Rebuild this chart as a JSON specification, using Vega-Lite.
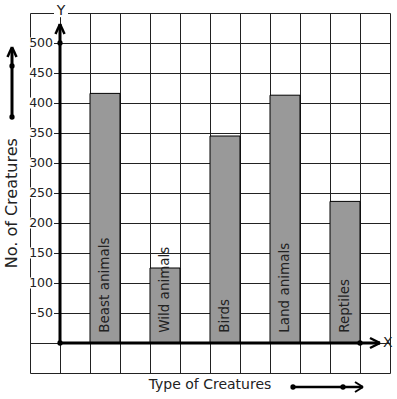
{
  "$schema": "https://vega.github.io/schema/vega-lite/v6.json",
  "width": 360,
  "height": 360,
  "autosize": {"type": "none"},
  "padding": {"left": 30, "top": 13, "right": 7, "bottom": 26},
  "config": {
    "view": {"stroke": null},
    "axis": {"gridColor": "#222222", "gridWidth": 1, "gridOpacity": 1},
    "text": {"font": "DejaVu Sans", "color": "#222222"}
  },
  "datasets": {
    "creatures": [
      {"category": "Beast animals", "value": 416},
      {"category": "Wild animals", "value": 125},
      {"category": "Birds", "value": 345},
      {"category": "Land animals", "value": 413},
      {"category": "Reptiles", "value": 236}
    ],
    "ticks": [{"v": 50}, {"v": 100}, {"v": 150}, {"v": 200}, {"v": 250}, {"v": 300}, {"v": 350}, {"v": 400}, {"v": 450}, {"v": 500}],
    "one": [{"k": 1}]
  },
  "layer": [
    {
      "data": {"name": "creatures"},
      "transform": [{"window": [{"op": "row_number", "as": "slot"}]}],
      "mark": {"type": "bar", "fill": "#999999", "stroke": "black", "strokeWidth": 1, "size": 30},
      "encoding": {
        "x": {"field": "slot", "type": "quantitative",
          "scale": {"domain": [-0.25, 5.75], "nice": false, "zero": false, "padding": 0},
          "axis": {"values": [-0.25, 0.25, 0.75, 1.25, 1.75, 2.25, 2.75, 3.25, 3.75, 4.25, 4.75, 5.25, 5.75], "tickCount": 20, "grid": true, "labels": false, "ticks": false, "domain": false, "title": null}},
        "y": {"field": "value", "type": "quantitative",
          "scale": {"domain": [-50, 550], "nice": false, "zero": false, "padding": 0},
          "axis": {"values": [-50, 0, 50, 100, 150, 200, 250, 300, 350, 400, 450, 500, 550], "tickCount": 20, "grid": true, "labels": false, "ticks": false, "domain": false, "title": null}}
      }
    },
    {
      "data": {"name": "creatures"},
      "transform": [{"window": [{"op": "row_number", "as": "slot"}]}],
      "mark": {"type": "text", "align": "left", "baseline": "middle", "angle": 270, "fontSize": 13.5},
      "encoding": {
        "x": {"field": "slot", "type": "quantitative"},
        "y": {"datum": 17},
        "text": {"field": "category"}
      }
    },
    {
      "data": {"name": "ticks"},
      "transform": [{"filter": "datum.v >= 100"}],
      "mark": {"type": "bar", "fill": "white", "size": 11},
      "encoding": {"x": {"datum": -0.2667}, "x2": {"datum": 0.15}, "y": {"field": "v", "type": "quantitative"}}
    },
    {
      "data": {"name": "ticks"},
      "transform": [{"filter": "datum.v < 100"}],
      "mark": {"type": "bar", "fill": "white", "size": 11},
      "encoding": {"x": {"datum": -0.15}, "x2": {"datum": 0.15}, "y": {"field": "v", "type": "quantitative"}}
    },
    {
      "data": {"name": "ticks"},
      "mark": {"type": "text", "align": "right", "baseline": "middle", "fontSize": 12.5},
      "encoding": {"x": {"datum": 0.1333}, "y": {"field": "v", "type": "quantitative"}, "text": {"field": "v"}}
    },
    {
      "data": {"name": "one"},
      "mark": {"type": "rect", "fill": "white"},
      "encoding": {"x": {"datum": 0.15}, "x2": {"datum": 0.3833}, "y": {"datum": 543}, "y2": {"datum": 558}}
    },
    {
      "data": {"name": "one"},
      "mark": {"type": "text", "align": "center", "baseline": "middle", "fontSize": 14, "text": "Y"},
      "encoding": {"x": {"datum": 0.2667}, "y": {"datum": 553}}
    },
    {
      "data": {"name": "one"},
      "mark": {"type": "text", "align": "left", "baseline": "middle", "fontSize": 14, "text": "X"},
      "encoding": {"x": {"datum": 5.6333}, "y": {"datum": 0}}
    },
    {
      "data": {"name": "one"},
      "mark": {"type": "text", "align": "center", "baseline": "middle", "fontSize": 14, "text": "Type of Creatures"},
      "encoding": {"x": {"datum": 2.75}, "y": {"datum": -70}}
    },
    {
      "data": {"name": "one"},
      "mark": {"type": "text", "align": "center", "baseline": "middle", "fontSize": 16, "angle": 270, "text": "No. of Creatures"},
      "encoding": {"x": {"datum": -0.55}, "y": {"datum": 233}}
    },
    {"data": {"name": "one"}, "mark": {"type": "rule", "strokeWidth": 3, "color": "black"},
      "encoding": {"x": {"datum": 0.25}, "y": {"datum": 0}, "y2": {"datum": 531.7}}},
    {"data": {"name": "one"}, "mark": {"type": "rule", "strokeWidth": 2.5, "color": "black"},
      "encoding": {"x": {"datum": 0.25}, "y": {"datum": 531.7}, "x2": {"datum": 0.175}, "y2": {"datum": 515}}},
    {"data": {"name": "one"}, "mark": {"type": "rule", "strokeWidth": 2.5, "color": "black"},
      "encoding": {"x": {"datum": 0.25}, "y": {"datum": 531.7}, "x2": {"datum": 0.325}, "y2": {"datum": 515}}},
    {"data": {"name": "one"}, "mark": {"type": "rule", "strokeWidth": 3, "color": "black"},
      "encoding": {"x": {"datum": 0.25}, "x2": {"datum": 5.5833}, "y": {"datum": 0}}},
    {"data": {"name": "one"}, "mark": {"type": "rule", "strokeWidth": 2.5, "color": "black"},
      "encoding": {"x": {"datum": 5.5833}, "y": {"datum": 0}, "x2": {"datum": 5.4167}, "y2": {"datum": 8.33}}},
    {"data": {"name": "one"}, "mark": {"type": "rule", "strokeWidth": 2.5, "color": "black"},
      "encoding": {"x": {"datum": 5.5833}, "y": {"datum": 0}, "x2": {"datum": 5.4167}, "y2": {"datum": -8.33}}},
    {"data": {"name": "one"}, "mark": {"type": "rule", "strokeWidth": 3, "color": "black"},
      "encoding": {"x": {"datum": -0.55}, "y": {"datum": 376.7}, "y2": {"datum": 492}}},
    {"data": {"name": "one"}, "mark": {"type": "rule", "strokeWidth": 2.5, "color": "black"},
      "encoding": {"x": {"datum": -0.55}, "y": {"datum": 493.3}, "x2": {"datum": -0.625}, "y2": {"datum": 476.7}}},
    {"data": {"name": "one"}, "mark": {"type": "rule", "strokeWidth": 2.5, "color": "black"},
      "encoding": {"x": {"datum": -0.55}, "y": {"datum": 493.3}, "x2": {"datum": -0.475}, "y2": {"datum": 476.7}}},
    {"data": {"name": "one"}, "mark": {"type": "rule", "strokeWidth": 2.5, "color": "black"},
      "encoding": {"x": {"datum": 4.1333}, "x2": {"datum": 5.3}, "y": {"datum": -73.3}}},
    {"data": {"name": "one"}, "mark": {"type": "rule", "strokeWidth": 2, "color": "black"},
      "encoding": {"x": {"datum": 5.3}, "y": {"datum": -73.3}, "x2": {"datum": 5.1667}, "y2": {"datum": -65}}},
    {"data": {"name": "one"}, "mark": {"type": "rule", "strokeWidth": 2, "color": "black"},
      "encoding": {"x": {"datum": 5.3}, "y": {"datum": -73.3}, "x2": {"datum": 5.1667}, "y2": {"datum": -81.7}}},
    {"data": {"name": "one"}, "mark": {"type": "point", "filled": true, "color": "black", "opacity": 1, "size": 28},
      "encoding": {"x": {"datum": 0.25}, "y": {"datum": 0}}},
    {"data": {"name": "one"}, "mark": {"type": "point", "filled": true, "color": "black", "opacity": 1, "size": 28},
      "encoding": {"x": {"datum": 0.25}, "y": {"datum": 500}}},
    {"data": {"name": "one"}, "mark": {"type": "point", "filled": true, "color": "black", "opacity": 1, "size": 28},
      "encoding": {"x": {"datum": 5.25}, "y": {"datum": 0}}},
    {"data": {"name": "one"}, "mark": {"type": "point", "filled": true, "color": "black", "opacity": 1, "size": 28},
      "encoding": {"x": {"datum": -0.55}, "y": {"datum": 461.7}}},
    {"data": {"name": "one"}, "mark": {"type": "point", "filled": true, "color": "black", "opacity": 1, "size": 28},
      "encoding": {"x": {"datum": -0.55}, "y": {"datum": 376.7}}},
    {"data": {"name": "one"}, "mark": {"type": "point", "filled": true, "color": "black", "opacity": 1, "size": 28},
      "encoding": {"x": {"datum": 4.1333}, "y": {"datum": -73.3}}},
    {"data": {"name": "one"}, "mark": {"type": "point", "filled": true, "color": "black", "opacity": 1, "size": 28},
      "encoding": {"x": {"datum": 4.9667}, "y": {"datum": -73.3}}}
  ]
}
